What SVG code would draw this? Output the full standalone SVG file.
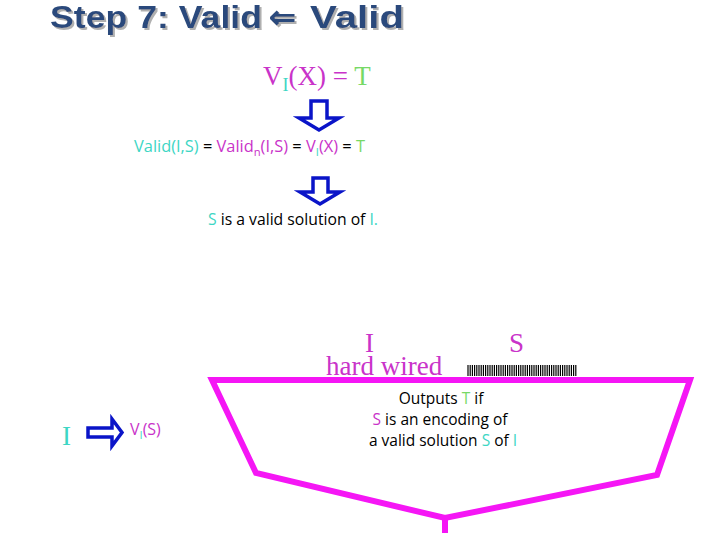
<svg xmlns="http://www.w3.org/2000/svg" width="720" height="540" viewBox="0 0 720 540">
<defs>
<filter id="shadow" x="-5%" y="-20%" width="110%" height="150%">
<feOffset in="SourceAlpha" dx="2" dy="2" result="off"/>
<feFlood flood-color="#b0b0b0"/>
<feComposite in2="off" operator="in" result="sh"/>
<feMerge><feMergeNode in="sh"/><feMergeNode in="SourceGraphic"/></feMerge>
</filter>
<style>
.title{font-family:"Liberation Sans",Arial,sans-serif;font-weight:bold;font-size:32px;fill:#2c4a7c}
.tm{font-family:"Liberation Serif","Times New Roman",serif;font-size:27px}
.sn{font-family:"Open Sans","Liberation Sans",sans-serif;font-size:16px}
.sb{font-family:"Open Sans","Liberation Sans",sans-serif;font-size:15.5px}
.mag{fill:#c933c9}
.cy{fill:#3dd6c4}
.gr{fill:#77d966}
.blk{fill:#000}
.barrow{fill:#fff;stroke:#0a14c8;stroke-width:3.5;stroke-linejoin:miter}
.box{fill:none;stroke:#f516f5;stroke-width:6;stroke-linejoin:miter}
</style>
</defs>
<rect width="720" height="540" fill="#fff"/>
<g id="title" filter="url(#shadow)">
<text class="title" y="28"><tspan x="50" textLength="212" lengthAdjust="spacingAndGlyphs">Step 7: Valid</tspan><tspan x="269">⇐</tspan><tspan x="310" textLength="94" lengthAdjust="spacingAndGlyphs">Valid</tspan></text>
</g>
<g id="vix">
<text class="tm" x="263" y="85"><tspan class="mag">V</tspan><tspan class="cy" font-size="18" dy="6">I</tspan><tspan class="mag" dy="-6">(X) = </tspan><tspan class="gr">T</tspan></text>
</g>
<g id="arrow1"><path class="barrow" d="M311 101 H327 V118 H339 L319 130 L299 118 H311 Z"/></g>
<g id="valid">
<text class="sn" x="134" y="152" textLength="231" lengthAdjust="spacingAndGlyphs"><tspan class="cy">Valid(I,S)</tspan><tspan class="blk"> = </tspan><tspan class="mag">Valid</tspan><tspan class="mag" font-size="11" dy="4">n</tspan><tspan class="mag" dy="-4">(I,S)</tspan><tspan class="blk"> = </tspan><tspan class="mag">V</tspan><tspan class="cy" font-size="11" dy="4">I</tspan><tspan class="mag" dy="-4">(X)</tspan><tspan class="blk"> = </tspan><tspan class="gr">T</tspan></text>
</g>
<g id="arrow2"><path class="barrow" d="M313 178 H328 V192 H340 L320 204 L300 192 H313 Z"/></g>
<g id="solution">
<text class="sn" x="208" y="225" textLength="170" lengthAdjust="spacingAndGlyphs"><tspan class="cy">S</tspan><tspan class="blk"> is a valid solution of </tspan><tspan class="cy">I.</tspan></text>
</g>
<g id="hardwired">
<text class="tm mag" font-size="28" x="365" y="352">I</text>
<text class="tm mag" font-size="28" x="326" y="375">hard wired</text>
</g>
<g id="sinput">
<text class="tm mag" font-size="28" x="509" y="352">S</text>
<path d="M468 365V376M470.2 365V376M472.4 365V376M474.6 365V376M476.8 365V376M479 365V376M481.2 365V376M483.4 365V376M485.6 365V376M487.8 365V376M490 365V376M492.2 365V376M494.4 365V376M496.6 365V376M498.8 365V376M501 365V376M503.2 365V376M505.4 365V376M507.6 365V376M509.8 365V376M512 365V376M514.2 365V376M516.4 365V376M518.6 365V376M520.8 365V376M523 365V376M525.2 365V376M527.4 365V376M529.6 365V376M531.8 365V376M534 365V376M536.2 365V376M538.4 365V376M540.6 365V376M542.8 365V376M545 365V376M547.2 365V376M549.4 365V376M551.6 365V376M553.8 365V376M556 365V376M558.2 365V376M560.4 365V376M562.6 365V376M564.8 365V376M567 365V376M569.2 365V376M571.4 365V376M573.6 365V376M575.8 365V376" stroke="#000" stroke-width="1.2"/>
</g>
<g id="verifier">
<path class="box" d="M212 380 H690 L657 475 L445 518 L256 473 Z"/>
<path class="box" d="M445 518 V533"/>
<text class="sb" text-anchor="middle" x="441" y="404"><tspan class="blk">Outputs </tspan><tspan class="gr">T</tspan><tspan class="blk"> if</tspan></text>
<text class="sb" text-anchor="middle" x="440" y="425"><tspan class="mag">S</tspan><tspan class="blk"> is an encoding of</tspan></text>
<text class="sb" text-anchor="middle" x="443" y="446"><tspan class="blk">a valid solution </tspan><tspan class="cy">S</tspan><tspan class="blk"> of </tspan><tspan class="cy">I</tspan></text>
</g>
<g id="leftI">
<text class="tm cy" x="62" y="445">I</text>
</g>
<g id="arrow3"><path class="barrow" d="M88 428 H112 V419 L122 432.5 L112 446 V437 H88 Z"/></g>
<g id="vis">
<text class="sn" x="130" y="435"><tspan class="mag">V</tspan><tspan class="cy" font-size="11" dy="4">I</tspan><tspan class="mag" dy="-4">(S)</tspan></text>
</g>
</svg>
